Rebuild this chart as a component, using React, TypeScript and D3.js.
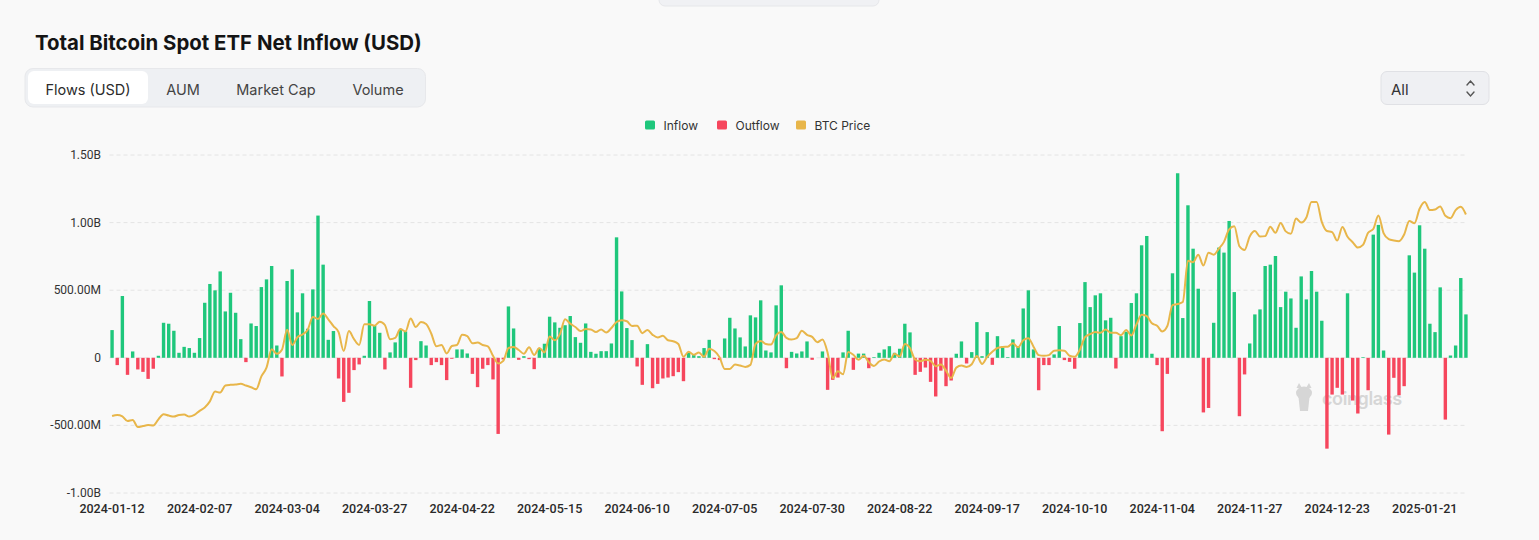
import React, { useMemo } from "react";
import { scaleBand, scaleLinear, line, curveMonotoneX } from "d3";

const WIDTH = 1539;
const HEIGHT = 540;
const PLOT = { left: 109.5, right: 1468.5, top: 155, bottom: 493 };

const GREEN = "#1fc77c";
const RED = "#f6465d";
const GOLD = "#e8b64a";

// trading days shown on the category axis
const DATES = [
  "2024-01-12","2024-01-16","2024-01-17","2024-01-18","2024-01-19","2024-01-22","2024-01-23","2024-01-24","2024-01-25","2024-01-26",
  "2024-01-29","2024-01-30","2024-01-31","2024-02-01","2024-02-02","2024-02-05","2024-02-06","2024-02-07","2024-02-08","2024-02-09",
  "2024-02-12","2024-02-13","2024-02-14","2024-02-15","2024-02-16","2024-02-20","2024-02-21","2024-02-22","2024-02-23","2024-02-26",
  "2024-02-27","2024-02-28","2024-02-29","2024-03-01","2024-03-04","2024-03-05","2024-03-06","2024-03-07","2024-03-08","2024-03-11",
  "2024-03-12","2024-03-13","2024-03-14","2024-03-15","2024-03-18","2024-03-19","2024-03-20","2024-03-21","2024-03-22","2024-03-25",
  "2024-03-26","2024-03-27","2024-03-28","2024-04-01","2024-04-02","2024-04-03","2024-04-04","2024-04-05","2024-04-08","2024-04-09",
  "2024-04-10","2024-04-11","2024-04-12","2024-04-15","2024-04-16","2024-04-17","2024-04-18","2024-04-19","2024-04-22","2024-04-23",
  "2024-04-24","2024-04-25","2024-04-26","2024-04-29","2024-04-30","2024-05-01","2024-05-02","2024-05-03","2024-05-06","2024-05-07",
  "2024-05-08","2024-05-09","2024-05-10","2024-05-13","2024-05-14","2024-05-15","2024-05-16","2024-05-17","2024-05-20","2024-05-21",
  "2024-05-22","2024-05-23","2024-05-24","2024-05-28","2024-05-29","2024-05-30","2024-05-31","2024-06-03","2024-06-04","2024-06-05",
  "2024-06-06","2024-06-07","2024-06-10","2024-06-11","2024-06-12","2024-06-13","2024-06-14","2024-06-17","2024-06-18","2024-06-20",
  "2024-06-21","2024-06-24","2024-06-25","2024-06-26","2024-06-27","2024-06-28","2024-07-01","2024-07-02","2024-07-03","2024-07-05",
  "2024-07-08","2024-07-09","2024-07-10","2024-07-11","2024-07-12","2024-07-15","2024-07-16","2024-07-17","2024-07-18","2024-07-19",
  "2024-07-22","2024-07-23","2024-07-24","2024-07-25","2024-07-26","2024-07-29","2024-07-30","2024-07-31","2024-08-01","2024-08-02",
  "2024-08-05","2024-08-06","2024-08-07","2024-08-08","2024-08-09","2024-08-12","2024-08-13","2024-08-14","2024-08-15","2024-08-16",
  "2024-08-19","2024-08-20","2024-08-21","2024-08-22","2024-08-23","2024-08-26","2024-08-27","2024-08-28","2024-08-29","2024-08-30",
  "2024-09-03","2024-09-04","2024-09-05","2024-09-06","2024-09-09","2024-09-10","2024-09-11","2024-09-12","2024-09-13","2024-09-16",
  "2024-09-17","2024-09-18","2024-09-19","2024-09-20","2024-09-23","2024-09-24","2024-09-25","2024-09-26","2024-09-27","2024-09-30",
  "2024-10-01","2024-10-02","2024-10-03","2024-10-04","2024-10-07","2024-10-08","2024-10-09","2024-10-10","2024-10-11","2024-10-14",
  "2024-10-15","2024-10-16","2024-10-17","2024-10-18","2024-10-21","2024-10-22","2024-10-23","2024-10-24","2024-10-25","2024-10-28",
  "2024-10-29","2024-10-30","2024-10-31","2024-11-01","2024-11-04","2024-11-05","2024-11-06","2024-11-07","2024-11-08","2024-11-11",
  "2024-11-12","2024-11-13","2024-11-14","2024-11-15","2024-11-18","2024-11-19","2024-11-20","2024-11-21","2024-11-22","2024-11-25",
  "2024-11-26","2024-11-27","2024-11-29","2024-12-02","2024-12-03","2024-12-04","2024-12-05","2024-12-06","2024-12-09","2024-12-10",
  "2024-12-11","2024-12-12","2024-12-13","2024-12-16","2024-12-17","2024-12-18","2024-12-19","2024-12-20","2024-12-23","2024-12-24",
  "2024-12-26","2024-12-27","2024-12-30","2024-12-31","2025-01-02","2025-01-03","2025-01-06","2025-01-07","2025-01-08","2025-01-10",
  "2025-01-13","2025-01-14","2025-01-15","2025-01-16","2025-01-17","2025-01-21","2025-01-22","2025-01-23","2025-01-24","2025-01-27",
  "2025-01-28","2025-01-29","2025-01-30","2025-01-31",
];

// net flow per day, millions of USD
const FLOWS_M = [
  205, -54, 457, -126, 47, -86, -104, -156, -81, 15,
  259, 252, 200, 37, 81, 72, 37, 146, 407, 546,
  499, 639, 343, 481, 333, 138, -32, 254, 235, 523,
  580, 679, 91, -138, 568, 654, 336, 477, 215, 506,
  1052, 689, 133, 198, -153, -326, -259, -91, -49, 15,
  420, 237, 185, -86, 40, 114, 205, 195, -222, -17,
  123, 91, -54, -32, -54, -165, -7, 62, 62, 32,
  -119, -217, -81, -54, -160, -563, -12, 380, 217, -15,
  12, -10, -84, 69, 104, 304, 262, 222, 241, 309,
  153, 111, 254, 44, 30, 49, 49, 106, 891, 491,
  220, 131, -64, -200, 101, -225, -193, -153, -146, -136,
  -106, -173, 37, 20, 12, 72, 133, -10, -17, 143,
  296, 217, 151, 84, 314, 299, 425, 54, 40, 388,
  536, -77, 44, 32, 47, 121, -15, 0, 47, -237,
  -163, -146, 40, 200, -89, 31, 31, -77, 5, 37,
  62, 86, 37, 67, 252, 188, -126, -104, -72, -178,
  -286, -95, -210, -168, 30, 121, -42, 42, 264, 12,
  190, -52, 160, 74, 5, 136, 86, 365, 499, 62,
  -240, -54, -54, 25, 235, -17, -30, -81, 257, 560,
  375, 462, 477, 277, 296, -79, 160, 193, 405, 477,
  832, 901, 30, -54, -543, -119, 625, 1365, 294, 1128,
  807, 511, -404, -371, 259, 815, 778, 1012, 486, -432,
  -123, 106, 321, 358, 679, 689, 753, 375, 489, 439,
  222, 602, 432, 642, 489, 274, -672, -272, -222, -272,
  477, -316, -412, 5, -240, 911, 983, 54, -568, -148,
  -277, -210, 758, 630, 980, 807, 252, 190, 521, -457,
  17, 91, 590, 321,
];

// BTC close, thousands of USD
const BTC_PRICE_K = [
  42.8, 43.1, 42.7, 41.3, 41.6, 39.5, 39.8, 40.1, 40.0, 41.8,
  43.3, 42.9, 42.6, 43.1, 43.2, 42.6, 43.1, 44.3, 45.3, 47.1,
  50.0, 49.7, 51.8, 52.0, 52.1, 52.3, 51.8, 51.3, 50.7, 54.5,
  57.1, 62.5, 61.2, 62.4, 68.3, 63.8, 66.1, 66.9, 68.3, 72.1,
  71.5, 73.1, 71.4, 69.4, 67.6, 62.0, 67.9, 65.5, 63.8, 69.9,
  69.9, 69.5, 70.7, 69.7, 65.5, 65.9, 68.5, 67.8, 71.6, 69.1,
  70.6, 70.0, 67.2, 63.4, 63.8, 61.3, 63.5, 63.8, 66.8, 66.4,
  64.3, 64.5, 63.8, 63.4, 60.6, 58.3, 59.1, 62.9, 63.2, 62.3,
  61.2, 63.1, 60.8, 62.9, 61.6, 66.3, 65.2, 67.0, 71.4, 70.1,
  69.1, 67.9, 68.5, 68.4, 67.6, 68.4, 67.5, 68.8, 70.6, 71.1,
  70.8, 69.4, 69.5, 67.3, 68.2, 66.8, 66.0, 66.5, 65.2, 64.9,
  64.1, 60.3, 61.8, 60.9, 61.6, 60.3, 62.7, 62.0, 60.2, 56.7,
  56.7, 58.0, 57.7, 57.3, 57.9, 64.1, 65.0, 64.1, 63.9, 66.7,
  67.6, 65.9, 65.4, 65.8, 68.0, 66.8, 66.2, 64.6, 65.4, 61.5,
  54.0, 56.0, 55.1, 61.7, 60.9, 59.4, 60.6, 58.7, 57.6, 58.9,
  59.5, 59.0, 61.2, 60.4, 64.1, 62.9, 59.5, 59.0, 59.4, 59.1,
  57.5, 58.0, 56.2, 54.0, 57.1, 57.7, 57.3, 58.1, 60.5, 58.2,
  60.3, 61.8, 62.9, 63.2, 63.3, 64.3, 63.1, 65.2, 65.8, 63.3,
  60.8, 60.6, 60.8, 62.1, 62.2, 62.1, 60.6, 60.3, 62.4, 66.1,
  67.0, 67.6, 67.4, 68.4, 67.4, 67.4, 66.7, 68.2, 66.6, 69.9,
  72.7, 72.3, 70.2, 69.5, 67.8, 69.4, 75.6, 75.9, 76.5, 88.7,
  88.3, 90.5, 87.3, 91.1, 90.5, 92.3, 94.3, 98.0, 98.9, 93.0,
  91.9, 95.9, 97.5, 95.9, 96.0, 98.8, 97.0, 99.9, 97.4, 96.7,
  101.2, 100.0, 101.5, 106.1, 106.1, 100.2, 97.5, 97.2, 94.7, 98.7,
  95.8, 94.2, 92.6, 93.4, 97.0, 98.1, 102.1, 96.9, 95.1, 94.7,
  94.5, 96.5, 100.5, 99.8, 104.1, 106.1, 103.7, 103.9, 104.8, 102.0,
  101.3, 103.7, 104.7, 102.4,
];

const Y_TICKS = [-1e9, -5e8, 0, 5e8, 1e9, 1.5e9];
const Y_TICK_LABELS = ["-1.00B", "-500.00M", "0", "500.00M", "1.00B", "1.50B"];
const X_TICK_DATES = [
  "2024-01-12","2024-02-07","2024-03-04","2024-03-27","2024-04-22","2024-05-15","2024-06-10","2024-07-05",
  "2024-07-30","2024-08-22","2024-09-17","2024-10-10","2024-11-04","2024-11-27","2024-12-23","2025-01-21",
];
const TABS = ["Flows (USD)", "AUM", "Market Cap", "Volume"];
const TAB_CENTERS = [88, 183, 276, 378];
const LEGEND = [
  { label: "Inflow", color: GREEN, x: 645 },
  { label: "Outflow", color: RED, x: 717 },
  { label: "BTC Price", color: GOLD, x: 796 },
];

const AXIS_FONT = "Roboto, 'DejaVu Sans', sans-serif";
const UI_FONT = "Inter, 'Noto Sans', sans-serif";

export default function App() {
  const data = useMemo(
    () => DATES.map((date, i) => ({ date, flow: FLOWS_M[i] * 1e6, price: BTC_PRICE_K[i] * 1000 })),
    []
  );

  const xScale = useMemo(
    () => scaleBand<string>().domain(DATES).range([PLOT.left, PLOT.right]).paddingInner(0.34).paddingOuter(0.17),
    []
  );
  const yScale = useMemo(() => scaleLinear().domain([-1e9, 1.5e9]).range([PLOT.bottom, PLOT.top]), []);
  const priceScale = useMemo(() => scaleLinear().domain([20000, 120000]).range([PLOT.bottom, PLOT.top]), []);

  const cx = (d: string) => (xScale(d) ?? 0) + xScale.bandwidth() / 2;

  const pricePath = useMemo(() => {
    const gen = line<{ date: string; price: number }>()
      .x((d) => cx(d.date))
      .y((d) => priceScale(d.price))
      .curve(curveMonotoneX);
    return gen(data) || "";
  }, [data]);

  const y0 = yScale(0);

  return (
    <div style={{ width: WIDTH, height: HEIGHT, background: "#f9f9f9" }}>
      <style>{`body{margin:0;background:#f9f9f9}`}</style>
      <svg width={WIDTH} height={HEIGHT} viewBox={`0 0 ${WIDTH} ${HEIGHT}`} style={{ display: "block" }}>
        <rect x={0} y={0} width={WIDTH} height={HEIGHT} fill="#f9f9f9" />

        {/* cut-off tab strip at the top */}
        <rect x={659} y={-12} width={220} height={18} rx={6} fill="#f0f1f4" stroke="#e6e7ea" />

        {/* title */}
        <text x={35} y={50} fontFamily={UI_FONT} fontWeight={700} fontSize={20.4} fill="#141414">
          Total Bitcoin Spot ETF Net Inflow (USD)
        </text>

        {/* segmented control */}
        <rect x={25} y={68.5} width={400.5} height={38.5} rx={8} fill="#eef0f3" stroke="#e7e8eb" />
        <rect x={28} y={71} width={120} height={33} rx={6} fill="#ffffff" />
        {TABS.map((t, i) => (
          <text
            key={t}
            x={TAB_CENTERS[i]}
            y={89}
            textAnchor="middle"
            dominantBaseline="central"
            fontFamily={UI_FONT}
            fontSize={14.5}
            fill={i === 0 ? "#2b2b2b" : "#444"}
          >
            {t}
          </text>
        ))}

        {/* range select */}
        <rect x={1381} y={71.5} width={108} height={33} rx={6} fill="#eff0f3" stroke="#e0e1e5" />
        <text x={1391} y={89} dominantBaseline="central" fontFamily={UI_FONT} fontSize={15} fill="#333">
          All
        </text>
        <path d="M1467 85 L1470.5 81 L1474 85" fill="none" stroke="#555" strokeWidth={1.4} strokeLinecap="round" />
        <path d="M1467 92 L1470.5 96 L1474 92" fill="none" stroke="#555" strokeWidth={1.4} strokeLinecap="round" />

        {/* legend */}
        {LEGEND.map((l) => (
          <g key={l.label}>
            <rect x={l.x} y={120.5} width={10} height={9} rx={1.5} fill={l.color} />
            <text x={l.x + 18.5} y={125.5} dominantBaseline="central" fontFamily={UI_FONT} fontSize={12} fill="#333">
              {l.label}
            </text>
          </g>
        ))}

        {/* y grid + labels */}
        {Y_TICKS.map((v, i) => (
          <g key={v}>
            <line
              x1={PLOT.left}
              x2={PLOT.right - 1.5}
              y1={yScale(v)}
              y2={yScale(v)}
              stroke="#e4e4e4"
              strokeWidth={1}
              strokeDasharray="4 3"
            />
            <text
              x={101}
              y={yScale(v)}
              textAnchor="end"
              dominantBaseline="central"
              fontFamily={AXIS_FONT}
              fontSize={12}
              fill="#333"
            >
              {Y_TICK_LABELS[i]}
            </text>
          </g>
        ))}

        {/* x labels */}
        {X_TICK_DATES.map((d) => (
          <text
            key={d}
            x={cx(d)}
            y={508.5}
            textAnchor="middle"
            dominantBaseline="central"
            fontFamily={AXIS_FONT}
            fontWeight={500}
            fontSize={12.5}
            fill="#2a2a2a"
          >
            {d}
          </text>
        ))}

        {/* watermark */}
        <g fill="#d6d6d6">
          <ellipse cx={1304} cy={393} rx={8} ry={6.5} />
          <path d="M1296.5 388 L1299 383 L1302 388 Z" />
          <path d="M1311.5 388 L1309 383 L1306 388 Z" />
          <path d="M1298.5 397 L1309.5 397 L1308 411 L1300 411 Z" />
          <text x={1322} y={405} fontFamily={UI_FONT} fontWeight={600} fontSize={18} letterSpacing={-0.4}>
            coinglass
          </text>
        </g>

        {/* bars */}
        <g>
          {data.map((d) => {
            const y = yScale(d.flow);
            return (
              <rect
                key={d.date}
                x={xScale(d.date)}
                y={Math.min(y, y0)}
                width={xScale.bandwidth()}
                height={Math.abs(y - y0)}
                fill={d.flow >= 0 ? GREEN : RED}
              />
            );
          })}
        </g>

        {/* BTC price */}
        <path d={pricePath} fill="none" stroke={GOLD} strokeWidth={2} strokeLinejoin="round" />
      </svg>
    </div>
  );
}
